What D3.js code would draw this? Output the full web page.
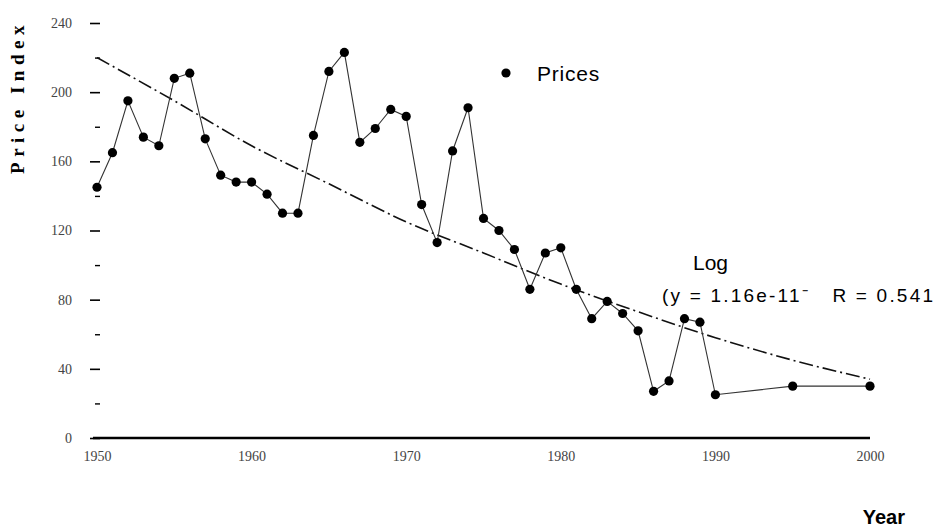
<!DOCTYPE html>
<html>
<head>
<meta charset="utf-8">
<script src="https://cdn.jsdelivr.net/npm/d3@7"></script>
<style>
  body { margin: 0; background: #fff; }
  svg { display: block; }
</style>
</head>
<body>
<div class="chart"></div>
<script>
// values
const years = [1950, 1951, 1952, 1953, 1954, 1955, 1956, 1957, 1958, 1959,
               1960, 1961, 1962, 1963, 1964, 1965, 1966, 1967, 1968, 1969,
               1970, 1971, 1972, 1973, 1974, 1975, 1976, 1977, 1978, 1979,
               1980, 1981, 1982, 1983, 1984, 1985, 1986, 1987, 1988, 1989,
               1990, 1995, 2000];
const prices = [145, 165, 195, 174, 169, 208, 211, 173, 152, 148,
                148, 141, 130, 130, 175, 212, 223, 171, 179, 190,
                186, 135, 113, 166, 191, 127, 120, 109, 86, 107,
                110, 86, 69, 79, 72, 62, 27, 33, 69, 67,
                25, 30, 30];

// log trend line as drawn
const trendYears = [1950, 1955, 1960, 1965, 1970, 1975, 1980, 1985, 1990, 1995, 2000];
const trendValues = [220, 195, 169, 147, 125, 107, 89, 73, 58, 45, 34];

const yTicks = [0, 40, 80, 120, 160, 200, 240];
const yMinor = [20, 60, 100, 140, 180, 220];
const xTicks = [1950, 1960, 1970, 1980, 1990, 2000];

const width = 938,
    height = 532;

const x = d3.scaleLinear().domain([1950, 2000]).range([97, 870]);
const y = d3.scaleLinear().domain([0, 240]).range([438, 23]);

const svg = d3.select(".chart").append("svg")
    .attr("width", width)
    .attr("height", height);

// y axis: ticks only, no spine
const yAxis = svg.append("g")
    .attr("transform", "translate(100,0)")
    .call(d3.axisLeft(y).tickValues(yTicks).tickSize(10).tickPadding(18));
yAxis.select(".domain").remove();
yAxis.selectAll("text")
    .attr("font-family", "Liberation Serif")
    .attr("font-size", 14)
    .attr("fill", "#444");
yAxis.selectAll("line").attr("stroke-width", 1.6);

svg.append("g")
    .attr("transform", "translate(100,0)")
    .call(d3.axisLeft(y).tickValues(yMinor).tickSize(5).tickFormat(""))
    .call(g => g.select(".domain").remove())
    .selectAll("line").attr("stroke-width", 1.4);

// x axis
const xAxis = svg.append("g")
    .attr("transform", "translate(0,438)")
    .call(d3.axisBottom(x).tickValues(xTicks).tickSize(0).tickPadding(13).tickFormat(d3.format("d")));
xAxis.select(".domain")
    .attr("d", "M93,0H870")
    .attr("stroke-width", 2.5);
xAxis.selectAll("text")
    .attr("font-family", "Liberation Serif")
    .attr("font-size", 14)
    .attr("fill", "#444");

// axis titles
svg.append("text")
    .attr("transform", "translate(24,97) rotate(-90)")
    .attr("text-anchor", "middle")
    .attr("font-family", "Liberation Serif")
    .attr("font-weight", "bold")
    .attr("font-size", 19)
    .attr("letter-spacing", 5.5)
    .text("Price Index");

svg.append("text")
    .attr("x", 905)
    .attr("y", 524)
    .attr("text-anchor", "end")
    .attr("font-family", "Liberation Sans")
    .attr("font-weight", "bold")
    .attr("font-size", 20)
    .text("Year");

// trend line
const trend = trendYears.map((d, i) => ({ year: d, value: trendValues[i] }));
svg.append("path")
    .datum(trend)
    .attr("fill", "none")
    .attr("stroke", "#111")
    .attr("stroke-width", 1.6)
    .attr("stroke-dasharray", "14,4,2,4")
    .attr("d", d3.line()
        .x(function (d) { return x(d.year); })
        .y(function (d) { return y(d.value); })
        .curve(d3.curveMonotoneX));

// price series
const data = years.map((d, i) => ({ year: d, value: prices[i] }));
svg.append("path")
    .datum(data)
    .attr("fill", "none")
    .attr("stroke", "#333")
    .attr("stroke-width", 1.1)
    .attr("d", d3.line()
        .x(function (d) { return x(d.year); })
        .y(function (d) { return y(d.value); }));

svg.selectAll(".dot")
    .data(data)
    .enter().append("circle")
    .attr("class", "dot")
    .attr("cx", function (d) { return x(d.year); })
    .attr("cy", function (d) { return y(d.value); })
    .attr("r", 4.6)
    .attr("fill", "#000");

// legend
svg.append("circle")
    .attr("cx", 506)
    .attr("cy", 73)
    .attr("r", 4.6)
    .attr("fill", "#000");
svg.append("text")
    .attr("x", 537)
    .attr("y", 81)
    .attr("font-family", "Liberation Sans")
    .attr("font-size", 21)
    .attr("letter-spacing", 0.8)
    .text("Prices");

// trend label
svg.append("text")
    .attr("x", 693)
    .attr("y", 270)
    .attr("font-family", "Liberation Sans")
    .attr("font-size", 21)
    .text("Log");
svg.append("text")
    .attr("x", 662)
    .attr("y", 302)
    .attr("font-family", "Liberation Sans")
    .attr("font-size", 19)
    .attr("xml:space", "preserve")
    .attr("textLength", 271)
    .attr("lengthAdjust", "spacing")
    .text("(y = 1.16e-11\u207B   R = 0.541");
</script>
</body>
</html>
